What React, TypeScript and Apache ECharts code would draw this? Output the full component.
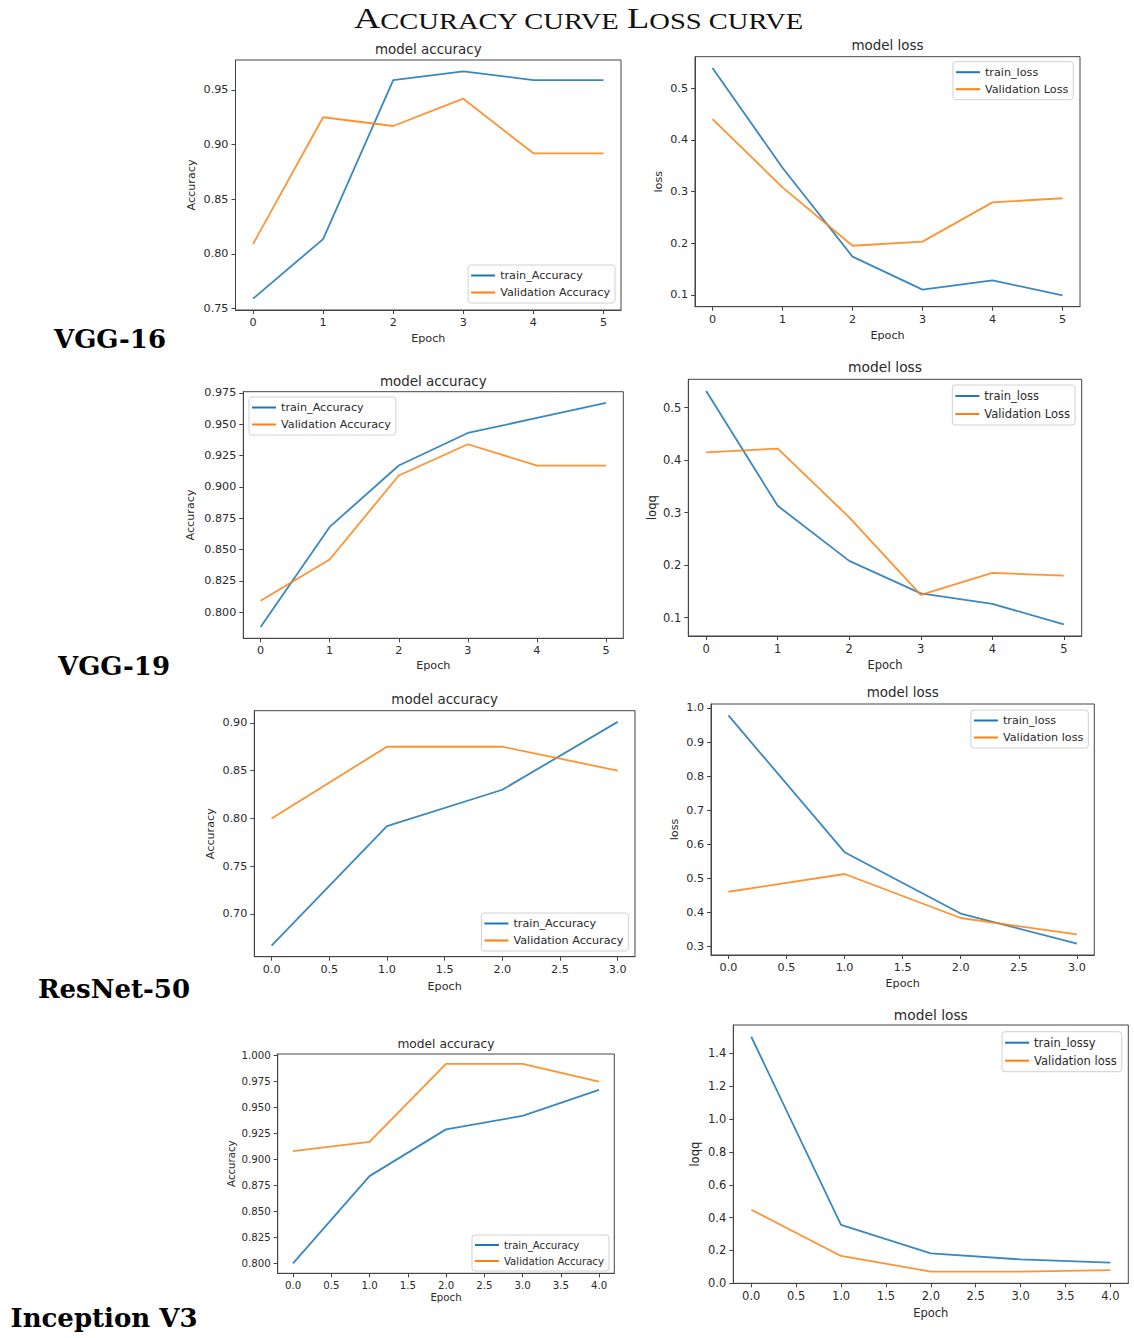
import React, { useEffect, useRef } from "react";
import * as echarts from "echarts";

// ---------- data ----------
const vgg16Epochs = [0, 1, 2, 3, 4, 5];
const vgg16TrainAcc = [0.759, 0.8135, 0.959, 0.967, 0.959, 0.959];
const vgg16ValAcc = [0.809, 0.925, 0.917, 0.942, 0.892, 0.892];
const vgg16TrainLoss = [0.539, 0.346, 0.174, 0.11, 0.128, 0.099];
const vgg16ValLoss = [0.44, 0.308, 0.195, 0.203, 0.279, 0.287];

const vgg19Epochs = [0, 1, 2, 3, 4, 5];
const vgg19TrainAcc = [0.788, 0.868, 0.917, 0.943, 0.955, 0.967];
const vgg19ValAcc = [0.809, 0.842, 0.909, 0.934, 0.917, 0.917];
const vgg19TrainLoss = [0.532, 0.313, 0.208, 0.146, 0.126, 0.087];
const vgg19ValLoss = [0.415, 0.422, 0.291, 0.143, 0.185, 0.18];

const resnetEpochs = [0, 1, 2, 3];
const resnetTrainAcc = [0.667, 0.792, 0.83, 0.901];
const resnetValAcc = [0.8, 0.875, 0.875, 0.85];
const resnetTrainLoss = [0.978, 0.577, 0.397, 0.309];
const resnetValLoss = [0.461, 0.513, 0.384, 0.336];

const inceptionEpochs = [0, 1, 2, 3, 4];
const inceptionTrainAcc = [0.8, 0.884, 0.929, 0.942, 0.967];
const inceptionValAcc = [0.908, 0.917, 0.992, 0.992, 0.975];
const inceptionTrainLoss = [1.502, 0.356, 0.182, 0.145, 0.125];
const inceptionValLoss = [0.448, 0.166, 0.071, 0.071, 0.08];

// tick labels
const xTicksInt = [0, 1, 2, 3, 4, 5];
const xTicksResnet = [0, 0.5, 1, 1.5, 2, 2.5, 3];
const xTicksInception = [0, 0.5, 1, 1.5, 2, 2.5, 3, 3.5, 4];
const yTicksVgg16Acc = [0.75, 0.8, 0.85, 0.9, 0.95];
const yTicksVgg16Loss = [0.1, 0.2, 0.3, 0.4, 0.5];
const yTicksVgg19Acc = [0.8, 0.825, 0.85, 0.875, 0.9, 0.925, 0.95, 0.975];
const yTicksVgg19Loss = [0.1, 0.2, 0.3, 0.4, 0.5];
const yTicksResnetAcc = [0.7, 0.75, 0.8, 0.85, 0.9];
const yTicksResnetLoss = [0.3, 0.4, 0.5, 0.6, 0.7, 0.8, 0.9, 1.0];
const yTicksInceptionAcc = [0.8, 0.825, 0.85, 0.875, 0.9, 0.925, 0.95, 0.975, 1.0];
const yTicksInceptionLoss = [0.0, 0.2, 0.4, 0.6, 0.8, 1.0, 1.2, 1.4];

const rowLabels = ["VGG-16", "VGG-19", "ResNet-50", "Inception V3"];

// ---------- styles ----------
const BLUE = "#1f77b4";
const ORANGE = "#ff7f0e";
const SANS = '"DejaVu Sans", sans-serif';
const SERIF = '"DejaVu Serif", serif';
const TITLE_SERIF = '"Liberation Serif", serif';
const TEXT = "#2a2a2a";
const SPINE = "#444444";

type Panel = {
  title: string;
  xs: number[];
  train: number[];
  val: number[];
  trainName: string;
  valName: string;
  yName: string;
  xTicks: number[];
  xDec: number;
  yTicks: number[];
  yDec: number;
  rect: [number, number, number, number];
  titlePos: [number, number];
  fs: number;
  legend: { left?: number; right?: number; top: number };
  xGap: number;
  yGap: number;
};

const panels: Panel[] = [
  {
    title: "model accuracy", xs: vgg16Epochs, train: vgg16TrainAcc, val: vgg16ValAcc,
    trainName: "train_Accuracy", valName: "Validation Accuracy", yName: "Accuracy",
    xTicks: xTicksInt, xDec: 0, yTicks: yTicksVgg16Acc, yDec: 2,
    rect: [235.5, 60, 385.5, 250], titlePos: [428.3, 49], fs: 11.2,
    legend: { right: 519, top: 265 }, xGap: 23, yGap: 39,
  },
  {
    title: "model loss", xs: vgg16Epochs, train: vgg16TrainLoss, val: vgg16ValLoss,
    trainName: "train_loss", valName: "Validation Loss", yName: "loss",
    xTicks: xTicksInt, xDec: 0, yTicks: yTicksVgg16Loss, yDec: 1,
    rect: [695, 56.7, 385, 250], titlePos: [887.5, 45], fs: 11.2,
    legend: { right: 60.7, top: 61.7 }, xGap: 23, yGap: 31,
  },
  {
    title: "model accuracy", xs: vgg19Epochs, train: vgg19TrainAcc, val: vgg19ValAcc,
    trainName: "train_Accuracy", valName: "Validation Accuracy", yName: "Accuracy",
    xTicks: xTicksInt, xDec: 0, yTicks: yTicksVgg19Acc, yDec: 3,
    rect: [243.3, 391.7, 380, 246.6], titlePos: [433.3, 381], fs: 11.2,
    legend: { left: 249, top: 397 }, xGap: 22, yGap: 47,
  },
  {
    title: "model loss", xs: vgg19Epochs, train: vgg19TrainLoss, val: vgg19ValLoss,
    trainName: "train_loss", valName: "Validation Loss", yName: "loqq",
    xTicks: xTicksInt, xDec: 0, yTicks: yTicksVgg19Loss, yDec: 1,
    rect: [688.3, 379.3, 393.4, 256.7], titlePos: [885, 367], fs: 11.5,
    legend: { right: 59, top: 385 }, xGap: 23, yGap: 30,
  },
  {
    title: "model accuracy", xs: resnetEpochs, train: resnetTrainAcc, val: resnetValAcc,
    trainName: "train_Accuracy", valName: "Validation Accuracy", yName: "Accuracy",
    xTicks: xTicksResnet, xDec: 1, yTicks: yTicksResnetAcc, yDec: 2,
    rect: [254.3, 710.7, 380.7, 246], titlePos: [444.7, 699], fs: 11.2,
    legend: { right: 505.7, top: 913 }, xGap: 24, yGap: 38,
  },
  {
    title: "model loss", xs: resnetEpochs, train: resnetTrainLoss, val: resnetValLoss,
    trainName: "train_loss", valName: "Validation loss", yName: "loss",
    xTicks: xTicksResnet, xDec: 1, yTicks: yTicksResnetLoss, yDec: 1,
    rect: [711, 704, 383.3, 251], titlePos: [902.7, 692.5], fs: 11.2,
    legend: { right: 45.7, top: 710 }, xGap: 23, yGap: 31,
  },
  {
    title: "model accuracy", xs: inceptionEpochs, train: inceptionTrainAcc, val: inceptionValAcc,
    trainName: "train_Accuracy", valName: "Validation Accuracy", yName: "Accuracy",
    xTicks: xTicksInception, xDec: 1, yTicks: yTicksInceptionAcc, yDec: 3,
    rect: [277.7, 1054, 336.6, 219.3], titlePos: [446, 1044], fs: 10.2,
    legend: { right: 525, top: 1235 }, xGap: 19.5, yGap: 41,
  },
  {
    title: "model loss", xs: inceptionEpochs, train: inceptionTrainLoss, val: inceptionValLoss,
    trainName: "train_lossy", valName: "Validation loss", yName: "loqq",
    xTicks: xTicksInception, xDec: 1, yTicks: yTicksInceptionLoss, yDec: 1,
    rect: [733.3, 1025, 395, 258.3], titlePos: [930.8, 1015], fs: 11.5,
    legend: { right: 12.3, top: 1031.7 }, xGap: 24, yGap: 32,
  },
];

const rowLabelPos: [number, number][] = [
  [110, 339],
  [114, 666],
  [114, 989],
  [104, 1318],
];

function buildOption() {
  const grid: any[] = [];
  const xAxis: any[] = [];
  const yAxis: any[] = [];
  const series: any[] = [];
  const legend: any[] = [];
  const graphic: any[] = [];

  panels.forEach((p, i) => {
    const xMax = Math.max(...p.xs);
    const xMin = Math.min(...p.xs);
    const xr = xMax - xMin;
    const all = p.train.concat(p.val);
    const yMin = Math.min(...all);
    const yMax = Math.max(...all);
    const yr = yMax - yMin;
    const txt = { fontSize: p.fs, color: TEXT, fontFamily: SANS };

    grid.push({
      left: p.rect[0], top: p.rect[1], width: p.rect[2], height: p.rect[3],
      show: true, borderColor: SPINE, borderWidth: 1, backgroundColor: "transparent",
      containLabel: false,
    });
    xAxis.push({
      type: "value", gridIndex: i,
      min: xMin - xr * 0.05, max: xMax + xr * 0.05,
      name: "Epoch", nameLocation: "middle", nameGap: p.xGap, nameTextStyle: txt,
      axisLine: { show: true, onZero: false, lineStyle: { color: SPINE, width: 1 } },
      axisTick: { show: true, length: 4, inside: false, lineStyle: { color: SPINE, width: 1 }, customValues: p.xTicks },
      axisLabel: { ...txt, margin: 7, customValues: p.xTicks, formatter: (v: number) => v.toFixed(p.xDec) },
      splitLine: { show: false },
    });
    yAxis.push({
      type: "value", gridIndex: i,
      min: yMin - yr * 0.05, max: yMax + yr * 0.05,
      name: p.yName, nameLocation: "middle", nameGap: p.yGap, nameRotate: 90, nameTextStyle: txt,
      axisLine: { show: true, onZero: false, lineStyle: { color: SPINE, width: 1 } },
      axisTick: { show: true, length: 4, inside: false, lineStyle: { color: SPINE, width: 1 }, customValues: p.yTicks },
      axisLabel: { ...txt, margin: 7, customValues: p.yTicks, formatter: (v: number) => v.toFixed(p.yDec) },
      splitLine: { show: false },
    });
    series.push({
      type: "line", name: p.trainName, xAxisIndex: i, yAxisIndex: i,
      data: p.xs.map((x, j) => [x, p.train[j]]),
      symbol: "none", showSymbol: false, silent: true,
      lineStyle: { color: BLUE, width: 1.8, opacity: 0.88 }, itemStyle: { color: BLUE },
    });
    series.push({
      type: "line", name: p.valName, xAxisIndex: i, yAxisIndex: i,
      data: p.xs.map((x, j) => [x, p.val[j]]),
      symbol: "none", showSymbol: false, silent: true,
      lineStyle: { color: ORANGE, width: 1.8, opacity: 0.85 }, itemStyle: { color: ORANGE },
    });
    legend.push({
      show: true, orient: "vertical", ...p.legend,
      data: [p.trainName, p.valName],
      icon: "rect", itemWidth: 24, itemHeight: 2, itemGap: 6,
      padding: [5, 5, 5, 3],
      borderColor: "#d0d0d0", borderWidth: 1, borderRadius: 3,
      backgroundColor: "#ffffff", selectedMode: false,
      textStyle: txt,
    });
    graphic.push({
      type: "text", x: p.titlePos[0], y: p.titlePos[1], silent: true,
      style: {
        text: p.title, fontSize: p.fs * 1.2, fontFamily: SANS, fill: TEXT,
        textAlign: "center", textVerticalAlign: "middle",
      },
    });
  });

  rowLabels.forEach((lab, i) => {
    graphic.push({
      type: "text", x: rowLabelPos[i][0], y: rowLabelPos[i][1], silent: true,
      style: {
        text: lab, fontSize: 26, fontWeight: "bold", fontFamily: SERIF, fill: "#000",
        textAlign: "center", textVerticalAlign: "middle",
      },
    });
  });

  graphic.push({
    type: "text", x: 354, y: 18, silent: true, scaleX: 1.215,
    style: {
      text: "{b|A}{s|CCURACY CURVE }{b|L}{s|OSS CURVE}",
      fill: "#111", fontFamily: TITLE_SERIF,
      textAlign: "left", textVerticalAlign: "middle",
      rich: {
        b: { fontSize: 30, fontFamily: TITLE_SERIF, fill: "#111", verticalAlign: "bottom", lineHeight: 30 },
        s: { fontSize: 23.5, fontFamily: TITLE_SERIF, fill: "#111", verticalAlign: "bottom", lineHeight: 30 },
      },
    },
  });

  return {
    animation: false,
    backgroundColor: "#ffffff",
    textStyle: { fontFamily: SANS },
    grid, xAxis, yAxis, series, legend, graphic,
  };
}

export default function App() {
  const ref = useRef<HTMLDivElement>(null);
  useEffect(() => {
    document.body.style.margin = "0";
    if (!ref.current) return;
    const chart = echarts.init(ref.current, undefined, { renderer: "svg" });
    chart.setOption(buildOption() as any);
    return () => chart.dispose();
  }, []);
  return <div ref={ref} style={{ width: 1134, height: 1338 }} />;
}
